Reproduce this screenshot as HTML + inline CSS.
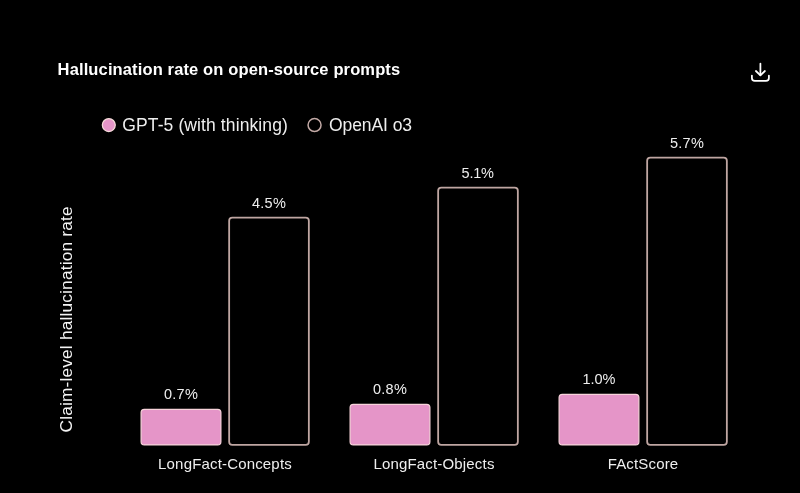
<!DOCTYPE html>
<html lang="en">
<head>
<meta charset="utf-8">
<title>Hallucination rate on open-source prompts</title>
<style>
html,body{margin:0;padding:0;background:#000;}
body{width:800px;height:493px;position:relative;overflow:hidden;font-family:"Liberation Sans",sans-serif;color:#eeeeee;}
.t{position:absolute;white-space:nowrap;line-height:1;}
.title{left:57.6px;top:61px;font-size:16.5px;font-weight:bold;color:#fff;letter-spacing:0.13px;}
.leg{font-size:17.5px;letter-spacing:0.11px;top:116.6px;}
.val{font-size:14.5px;letter-spacing:0.3px;text-align:center;width:81px;}
.cat{font-size:15px;letter-spacing:0.17px;text-align:center;width:169px;top:455.5px;}
.ylab{filter:none !important;color:#f4f4f4;font-size:17.25px;letter-spacing:0.19px;left:0;top:0;transform-origin:0 0;transform:translate(57.5px,432.5px) rotate(-90deg);}
svg{position:absolute;left:0;top:0;filter:blur(0.4px);}
.t{filter:blur(0.3px);}
</style>
</head>
<body>
<svg width="800" height="493" viewBox="0 0 800 493">
  <!-- legend markers -->
  <circle cx="108.8" cy="125.1" r="6.5" fill="#e595c8" stroke="#f6dcd9" stroke-width="1.2"/>
  <circle cx="314.55" cy="125.05" r="6.5" fill="none" stroke="#c2a9a5" stroke-width="1.5"/>
  <!-- pink bars -->
  <g fill="#e595c8" stroke="#f7d3da" stroke-width="1.2">
    <rect x="141.1" y="409.4" width="79.8" height="35.5" rx="3.2"/>
    <rect x="350.1" y="404.4" width="79.8" height="40.5" rx="3.2"/>
    <rect x="559.1" y="394.4" width="79.8" height="50.5" rx="3.2"/>
  </g>
  <!-- outline bars -->
  <g fill="none" stroke="#bfa6a2" stroke-width="1.8">
    <rect x="229.15" y="217.65" width="79.7" height="227.2" rx="3.2"/>
    <rect x="438.15" y="187.65" width="79.7" height="257.2" rx="3.2"/>
    <rect x="647.15" y="157.65" width="79.7" height="287.2" rx="3.2"/>
  </g>
  <!-- download icon -->
  <g fill="none" stroke="#ffffff" stroke-width="1.75" stroke-linecap="round" stroke-linejoin="round">
    <path d="M760.4 63.7 V75"/>
    <path d="M755.9 71 L760.4 75.3 L764.9 71"/>
    <path d="M751.9 75.6 V78 Q751.9 80.9 754.8 80.9 H766 Q768.9 80.9 768.9 78 V75.6"/>
  </g>
</svg>
<div class="t title">Hallucination rate on open-source prompts</div>
<div class="t leg" style="left:122.3px">GPT-5 (with thinking)</div>
<div class="t leg" style="left:329px;letter-spacing:-0.08px">OpenAI o3</div>
<div class="t ylab">Claim-level hallucination rate</div>

<div class="t val" style="left:140.5px;top:386.5px">0.7%</div>
<div class="t val" style="left:228.5px;top:195.5px">4.5%</div>
<div class="t val" style="left:349.5px;top:381.5px">0.8%</div>
<div class="t val" style="left:437.2px;top:165.5px;letter-spacing:-0.2px">5.1%</div>
<div class="t val" style="left:558.5px;top:371.5px;letter-spacing:-0.05px">1.0%</div>
<div class="t val" style="left:646.5px;top:135.5px">5.7%</div>

<div class="t cat" style="left:140.5px">LongFact-Concepts</div>
<div class="t cat" style="left:349.5px">LongFact-Objects</div>
<div class="t cat" style="left:558.5px">FActScore</div>
</body>
</html>
